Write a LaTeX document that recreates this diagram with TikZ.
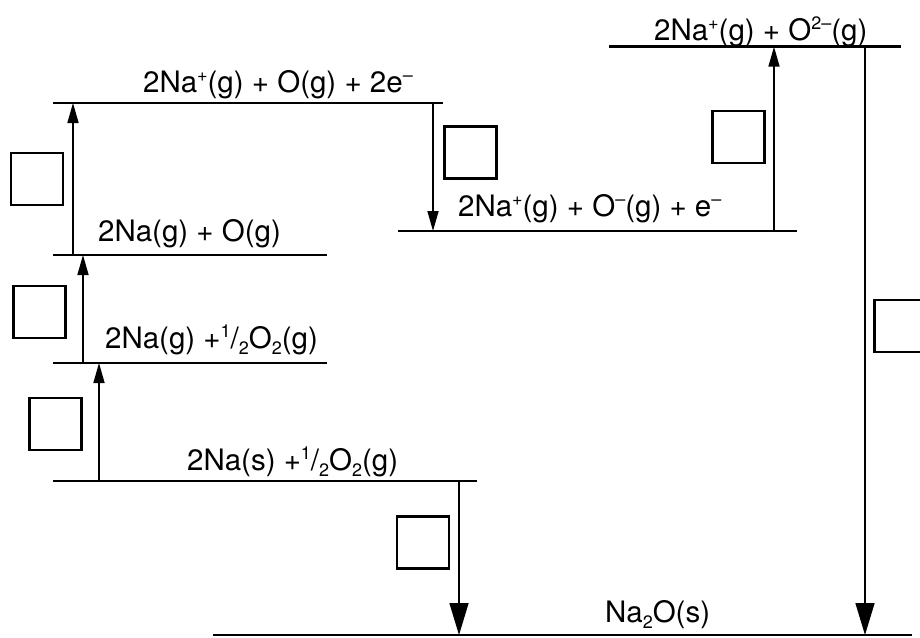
\documentclass[tikz,border=0pt]{standalone}
\usepackage{fontspec}
\setmainfont{TeX Gyre Heros}
\usetikzlibrary{arrows.meta}
% raised / lowered small figures for charges, subscripts and the 1/2
\newcommand\chemup[1]{\raisebox{0.36em}{\fontsize{18}{18}\selectfont #1}}
\newcommand\chemdn[1]{\raisebox{-0.22em}{\fontsize{18}{18}\selectfont #1}}
\newcommand\halfOtwo{\chemup{1}/\chemdn{2}O\chemdn{2}}

\begin{document}
\begin{tikzpicture}[x=1pt,y=-1pt,
  level/.style={line width=2.6pt},
  lab/.style={anchor=base west, inner sep=0pt, font=\fontsize{29.5}{34}\selectfont},
  arr/.style={line width=1.6pt, -{Triangle[length=20pt,width=11pt]}},
  bigarr/.style={line width=1.6pt, -{Triangle[length=32pt,width=19pt]}},
  ansbox/.style={draw, line width=2.6pt, inner sep=0pt,
    minimum width=52pt, minimum height=52pt}]

\clip (0,0) rectangle (920,637);

% energy levels
\coordinate (T1) at (609,46.7); \coordinate (T2) at (901,46.7);
\coordinate (B1) at (53,103);   \coordinate (B2) at (443,103);
\coordinate (C1) at (398,231);  \coordinate (C2) at (797,231);
\coordinate (D1) at (53,255);   \coordinate (D2) at (327,255);
\coordinate (E1) at (53,363);   \coordinate (E2) at (327,363);
\coordinate (F1) at (53,481);   \coordinate (F2) at (477,481);
\coordinate (G1) at (213,635);  \coordinate (G2) at (912,635);
\foreach \a/\b in {T1/T2,B1/B2,C1/C2,D1/D2,E1/E2,F1/F2,G1/G2}
  \draw[level] (\a) -- (\b);

% level labels
\node[lab] (tT) at (654,40)  {2Na\chemup{+}(g) + O\chemup{2--}(g)};
\node[lab] (tB) at (143,92)  {2Na\chemup{+}(g) + O(g) + 2e\chemup{--}};
\node[lab] (tC) at (458,216) {2Na\chemup{+}(g) + O\chemup{--}(g) + e\chemup{--}};
\node[lab] (tD) at (98,241)  {2Na(g) + O(g)};
\node[lab] (tE) at (105,348) {2Na(g) +\halfOtwo(g)};
\node[lab] (tF) at (187,470) {2Na(s) +\halfOtwo(g)};
\node[lab] (tG) at (605,622) {Na\chemdn{2}O(s)};

% arrow ends on the levels
\coordinate (a1s) at (99,481);  \coordinate (a1e) at (99,363);
\coordinate (a2s) at (83,363);  \coordinate (a2e) at (83,255);
\coordinate (a3s) at (73,255);  \coordinate (a3e) at (73,103);
\coordinate (a4s) at (433,103); \coordinate (a4e) at (433,231);
\coordinate (a5s) at (774,231); \coordinate (a5e) at (774,46.7);
\coordinate (a6s) at (865,46.7);\coordinate (a6e) at (865,635);
\coordinate (a7s) at (459,481); \coordinate (a7e) at (459,635);

\draw[arr] (a1s) -- (a1e);
\draw[arr] (a2s) -- (a2e);
\draw[arr] (a3s) -- (a3e);
\draw[arr] (a4s) -- (a4e);
\draw[arr] (a5s) -- (a5e);
\draw[bigarr] (a6s) -- (a6e);
\draw[bigarr] (a7s) -- (a7e);

% empty answer boxes
\node[ansbox] (q1) at (37,179) {};
\node[ansbox] (q2) at (39.5,312) {};
\node[ansbox] (q3) at (55.5,424) {};
\node[ansbox] (q4) at (423,542.5) {};
\node[ansbox] (q5) at (470.5,152.5) {};
\node[ansbox] (q6) at (738.5,137) {};
\node[ansbox] (q7) at (900.5,326) {};
\end{tikzpicture}
\end{document}
